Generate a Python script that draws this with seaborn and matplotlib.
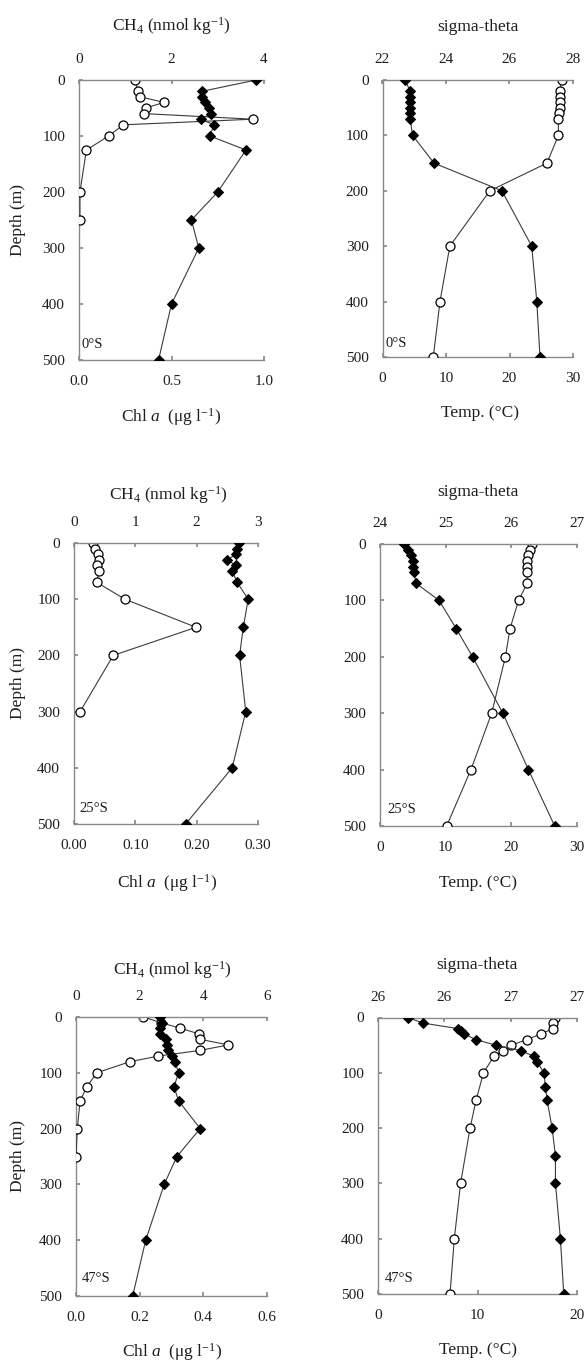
import matplotlib
matplotlib.use("Agg")
import matplotlib.pyplot as plt
import seaborn as sns

# ---------------- 0°S ----------------
depth_ch4_0 = [0, 20, 30, 40, 50, 60, 70, 80, 100, 125, 200, 250, 300, 400, 500]
ch4_0 = [3.83, 2.67, 2.65, 2.72, 2.80, 2.86, 2.63, 2.92, 2.83, 3.61, 3.00, 2.43, 2.59, 2.00, 1.72]
depth_chl_0 = [0, 20, 30, 40, 50, 60, 70, 80, 100, 125, 200, 250]
chl_0 = [0.30, 0.32, 0.33, 0.46, 0.36, 0.35, 0.94, 0.24, 0.16, 0.04, 0.005, 0.005]
depth_phys_0 = [0, 20, 30, 40, 50, 60, 70, 100, 150, 200, 300, 400, 500]
sigma_0 = [22.71, 22.87, 22.87, 22.87, 22.87, 22.87, 22.87, 22.95, 23.62, 25.76, 26.70, 26.86, 26.96]
temp_0 = [28.2, 27.95, 27.95, 27.95, 27.9, 27.85, 27.7, 27.7, 25.9, 16.9, 10.6, 9.05, 8.0]

# ---------------- 25°S ----------------
depth_ch4_25 = [0, 10, 20, 30, 40, 50, 70, 100, 150, 200, 300, 400, 500]
ch4_25 = [2.69, 2.66, 2.64, 2.50, 2.64, 2.58, 2.66, 2.84, 2.76, 2.70, 2.80, 2.58, 1.82]
depth_chl_25 = [0, 10, 20, 30, 40, 50, 70, 100, 150, 200, 300]
chl_25 = [0.031, 0.034, 0.039, 0.041, 0.037, 0.041, 0.037, 0.083, 0.199, 0.064, 0.010]
depth_phys_25 = [0, 10, 20, 30, 40, 50, 70, 100, 150, 200, 300, 400, 500]
sigma_25 = [24.37, 24.43, 24.47, 24.50, 24.51, 24.52, 24.55, 24.90, 25.16, 25.41, 25.87, 26.26, 26.66]
temp_25 = [23.1, 22.8, 22.5, 22.4, 22.4, 22.4, 22.4, 21.1, 19.8, 19.1, 17.0, 13.85, 10.15]

# ---------------- 47°S ----------------
depth_ch4_47 = [0, 10, 20, 30, 40, 50, 60, 70, 80, 100, 125, 150, 200, 250, 300, 400, 500]
ch4_47 = [2.64, 2.70, 2.64, 2.64, 2.83, 2.87, 2.90, 3.01, 3.11, 3.22, 3.08, 3.22, 3.90, 3.17, 2.77, 2.19, 1.78]
depth_chl_47 = [0, 10, 20, 30, 40, 50, 60, 70, 80, 100, 125, 150, 200, 250]
chl_47 = [0.212, 0.266, 0.327, 0.385, 0.39, 0.479, 0.388, 0.259, 0.17, 0.065, 0.034, 0.013, 0.004, 0.0]
depth_sigma_47 = [0, 10, 20, 25, 30, 40, 50, 60, 70, 80, 100, 125, 150, 200, 250, 300, 400, 500]
sigma_47 = [25.98, 26.07, 26.28, 26.30, 26.32, 26.39, 26.51, 26.66, 26.74, 26.76, 26.80, 26.81,
            26.82, 26.85, 26.87, 26.87, 26.90, 26.92]
depth_temp_47 = [0, 10, 20, 30, 40, 50, 60, 70, 100, 150, 200, 300, 400, 500]
temp_47 = [17.8, 17.6, 17.6, 16.35, 14.95, 13.4, 12.6, 11.65, 10.6, 9.85, 9.25, 8.3, 7.67, 7.24]

depth_ticks = [0, 100, 200, 300, 400, 500]

sns.set_theme(style="white")
plt.rcParams["font.family"] = ["Liberation Serif", "DejaVu Serif"]
plt.rcParams["mathtext.fontset"] = "custom"
plt.rcParams["mathtext.rm"] = "Liberation Serif"
plt.rcParams["mathtext.it"] = "Liberation Serif:italic"

W, H = 584, 1362
fig = plt.figure(figsize=(W / 100, H / 100), dpi=100)
fig.patch.set_facecolor("white")

SPINE = "#8a8a8a"
LINE = "#3c3c3c"
TXT = "#1e1e1e"
TICK_FS = 11
LAB_FS = 12.5


def rect(l, r, t, b):
    return [l / W, 1 - b / H, (r - l) / W, (b - t) / H]


def panel(box, bx, bd, tx, td, blim, bticks, blabels, tlim, tticks, tlabels,
          blab, tlab, station, st_xy, ylabel, lab_px):
    l, r, t, b = box
    ax = fig.add_axes(rect(*box))
    axt = ax.twiny()

    # bottom-axis variable: open circles
    sns.lineplot(x=bx, y=bd, ax=ax, sort=False, estimator=None, color=LINE, lw=0.8,
                 marker="o", markersize=6.5, markerfacecolor="white",
                 markeredgecolor="black", markeredgewidth=0.9, zorder=3)
    # top-axis variable: filled diamonds
    sns.lineplot(x=tx, y=td, ax=axt, sort=False, estimator=None, color=LINE, lw=0.8,
                 marker="D", markersize=4.8, markerfacecolor="black",
                 markeredgecolor="black", zorder=3)

    ax.set_ylim(500, 0)
    ax.set_xlim(*blim)
    axt.set_xlim(*tlim)

    ax.set_xticks(bticks)
    ax.set_xticklabels(blabels)
    axt.set_xticks(tticks)
    axt.set_xticklabels(tlabels)
    ax.set_yticks(depth_ticks)
    ax.set_yticklabels([str(d) for d in depth_ticks])

    for a in (ax, axt):
        for s in a.spines.values():
            s.set_visible(False)
    for s in ("left", "bottom"):
        ax.spines[s].set_visible(True)
        ax.spines[s].set_color(SPINE)
        ax.spines[s].set_linewidth(1.0)
    axt.spines["top"].set_visible(True)
    axt.spines["top"].set_color(SPINE)
    axt.spines["top"].set_linewidth(1.0)

    ax.tick_params(axis="x", bottom=True, top=False, direction="in", length=3,
                   color=SPINE, labelsize=TICK_FS, labelcolor=TXT, pad=11)
    ax.tick_params(axis="y", left=True, right=False, direction="in", length=3,
                   color=SPINE, labelsize=TICK_FS, labelcolor=TXT, pad=10)
    axt.tick_params(axis="x", top=True, bottom=False, labeltop=True, labelbottom=False,
                    direction="in", length=3, color=SPINE, labelsize=TICK_FS,
                    labelcolor=TXT, pad=10)
    axt.tick_params(axis="y", left=False, right=False, labelleft=False, labelright=False)

    (bxl, byl), (txl, tyl), (yxl, yyl) = lab_px
    ax.set_xlabel(blab, fontsize=LAB_FS, color=TXT)
    ax.xaxis.set_label_coords((bxl - l) / (r - l), (b - byl) / (b - t))
    ax.xaxis.label.set_va("center")
    axt.set_xlabel(tlab, fontsize=LAB_FS, color=TXT)
    axt.xaxis.set_label_coords((txl - l) / (r - l), (b - tyl) / (b - t))
    axt.xaxis.label.set_va("center")
    if ylabel:
        ax.set_ylabel("Depth (m)", fontsize=LAB_FS, color=TXT)
        ax.yaxis.set_label_coords((yxl - l) / (r - l), (b - yyl) / (b - t))
        ax.yaxis.label.set_va("center")
    else:
        ax.set_ylabel("")
    axt.set_ylabel("")

    ax.text(st_xy[0], st_xy[1], station, transform=ax.transAxes, ha="left",
            va="center", fontsize=10.5, color=TXT)
    return ax, axt


chl_lab = "Chl $\\mathit{a}$  (\u03bcg l$^{-1}$)"
ch4_lab = r"CH$_4$ (nmol kg$^{-1}$)"
temp_lab = "Temp. (\u00b0C)"
sig_lab = "sigma-theta"

# row 1: 0°S
panel((79, 264, 80, 360), chl_0, depth_chl_0, ch4_0, depth_ch4_0,
      (0, 1.0), [0, 0.5, 1.0], ["0.0", "0.5", "1.0"],
      (0, 4), [0, 2, 4], ["0", "2", "4"],
      chl_lab, ch4_lab, "0\u00b0S", (0.012, 0.055), True,
      ((171, 417), (171, 26), (18, 220)))
panel((382.5, 573, 80, 357), temp_0, depth_phys_0, sigma_0, depth_phys_0,
      (0, 30), [0, 10, 20, 30], ["0", "10", "20", "30"],
      (22, 28), [22, 24, 26, 28], ["22", "24", "26", "28"],
      temp_lab, sig_lab, "0\u00b0S", (0.015, 0.05), False,
      ((480, 413), (478, 27), (0, 0)))

# row 2: 25°S
panel((74, 258, 543, 824), chl_25, depth_chl_25, ch4_25, depth_ch4_25,
      (0, 0.30), [0, 0.10, 0.20, 0.30], ["0.00", "0.10", "0.20", "0.30"],
      (0, 3), [0, 1, 2, 3], ["0", "1", "2", "3"],
      chl_lab, ch4_lab, "25\u00b0S", (0.03, 0.055), True,
      ((167, 883), (168, 495), (18, 683)))
panel((380, 577, 544, 826), temp_25, depth_phys_25, sigma_25, depth_phys_25,
      (0, 30), [0, 10, 20, 30], ["0", "10", "20", "30"],
      (24, 27), [24, 25, 26, 27], ["24", "25", "26", "27"],
      temp_lab, sig_lab, "25\u00b0S", (0.035, 0.058), False,
      ((478, 883), (478, 492), (0, 0)))

# row 3: 47°S
sig47_ticks = [25.8, 26.2, 26.6, 27.0]
panel((76, 267, 1017, 1296), chl_47, depth_chl_47, ch4_47, depth_ch4_47,
      (0, 0.6), [0, 0.2, 0.4, 0.6], ["0.0", "0.2", "0.4", "0.6"],
      (0, 6), [0, 2, 4, 6], ["0", "2", "4", "6"],
      chl_lab, ch4_lab, "47\u00b0S", (0.03, 0.062), True,
      ((172, 1352), (172, 970), (18, 1156)))
panel((378, 577, 1017.5, 1294), temp_47, depth_temp_47, sigma_47, depth_sigma_47,
      (0, 20), [0, 10, 20], ["0", "10", "20"],
      (25.8, 27.0), sig47_ticks, [f"{v:.0f}" for v in sig47_ticks],
      temp_lab, sig_lab, "47\u00b0S", (0.035, 0.056), False,
      ((478, 1350), (477, 965), (0, 0)))

fig.savefig("out.png", dpi=100, facecolor="white")
